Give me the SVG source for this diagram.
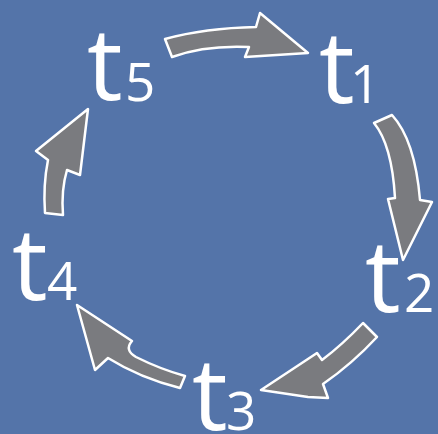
<svg xmlns="http://www.w3.org/2000/svg" width="438" height="434" viewBox="0 0 438 434">
<style>
.bg{fill:#5474A9}
.arr{fill:#7A7B7F;stroke:#FFFFFF;stroke-width:2.5;stroke-linejoin:round}
.lbl{fill:#FFFFFF;font-family:"Open Sans","Noto Sans",sans-serif}
.main{font-size:100px}
.sub{font-size:53px}
</style>
<rect class="bg" x="0" y="0" width="438" height="434"/>
<g id="connectors">
<path class="arr" d="M165,39 Q205,28 256,27 L260,13 L308,53 L245,57 L249,47 Q205,45 172,57 Z"/>
<path class="arr" d="M374,123 L392,115 Q415,140 420,200 L432,202 L403,260 L388,199 L395,198 Q392,145 374,123 Z"/>
<path class="arr" d="M363,323 L377,337 Q352,364 323,384 L328,398 L308,397 L261,390 L317,353 L322,360 Q342,345 363,323 Z"/>
<path class="arr" d="M77,305 L132,341 Q124,350 136,357 Q160,369 185,376 L180,388 Q140,378 108,358 L95,370 Z"/>
<path class="arr" d="M88,109 L80,175 L67,170 Q61,190 63,215 L45,213 Q43,185 48,160 L36,151 Z"/>
</g>
<g id="t1"><text class="lbl"><tspan class="main" x="319" y="103">t</tspan><tspan class="sub" x="350" y="103">1</tspan></text></g>
<g id="t2"><text class="lbl"><tspan class="main" x="365" y="312">t</tspan><tspan class="sub" x="404" y="312">2</tspan></text></g>
<g id="t3"><text class="lbl"><tspan class="main" x="192" y="430">t</tspan><tspan class="sub" x="226" y="430">3</tspan></text></g>
<g id="t4"><text class="lbl"><tspan class="main" x="12" y="300">t</tspan><tspan class="sub" x="47" y="300">4</tspan></text></g>
<g id="t5"><text class="lbl"><tspan class="main" x="87" y="100">t</tspan><tspan class="sub" x="125" y="101">5</tspan></text></g>
</svg>
